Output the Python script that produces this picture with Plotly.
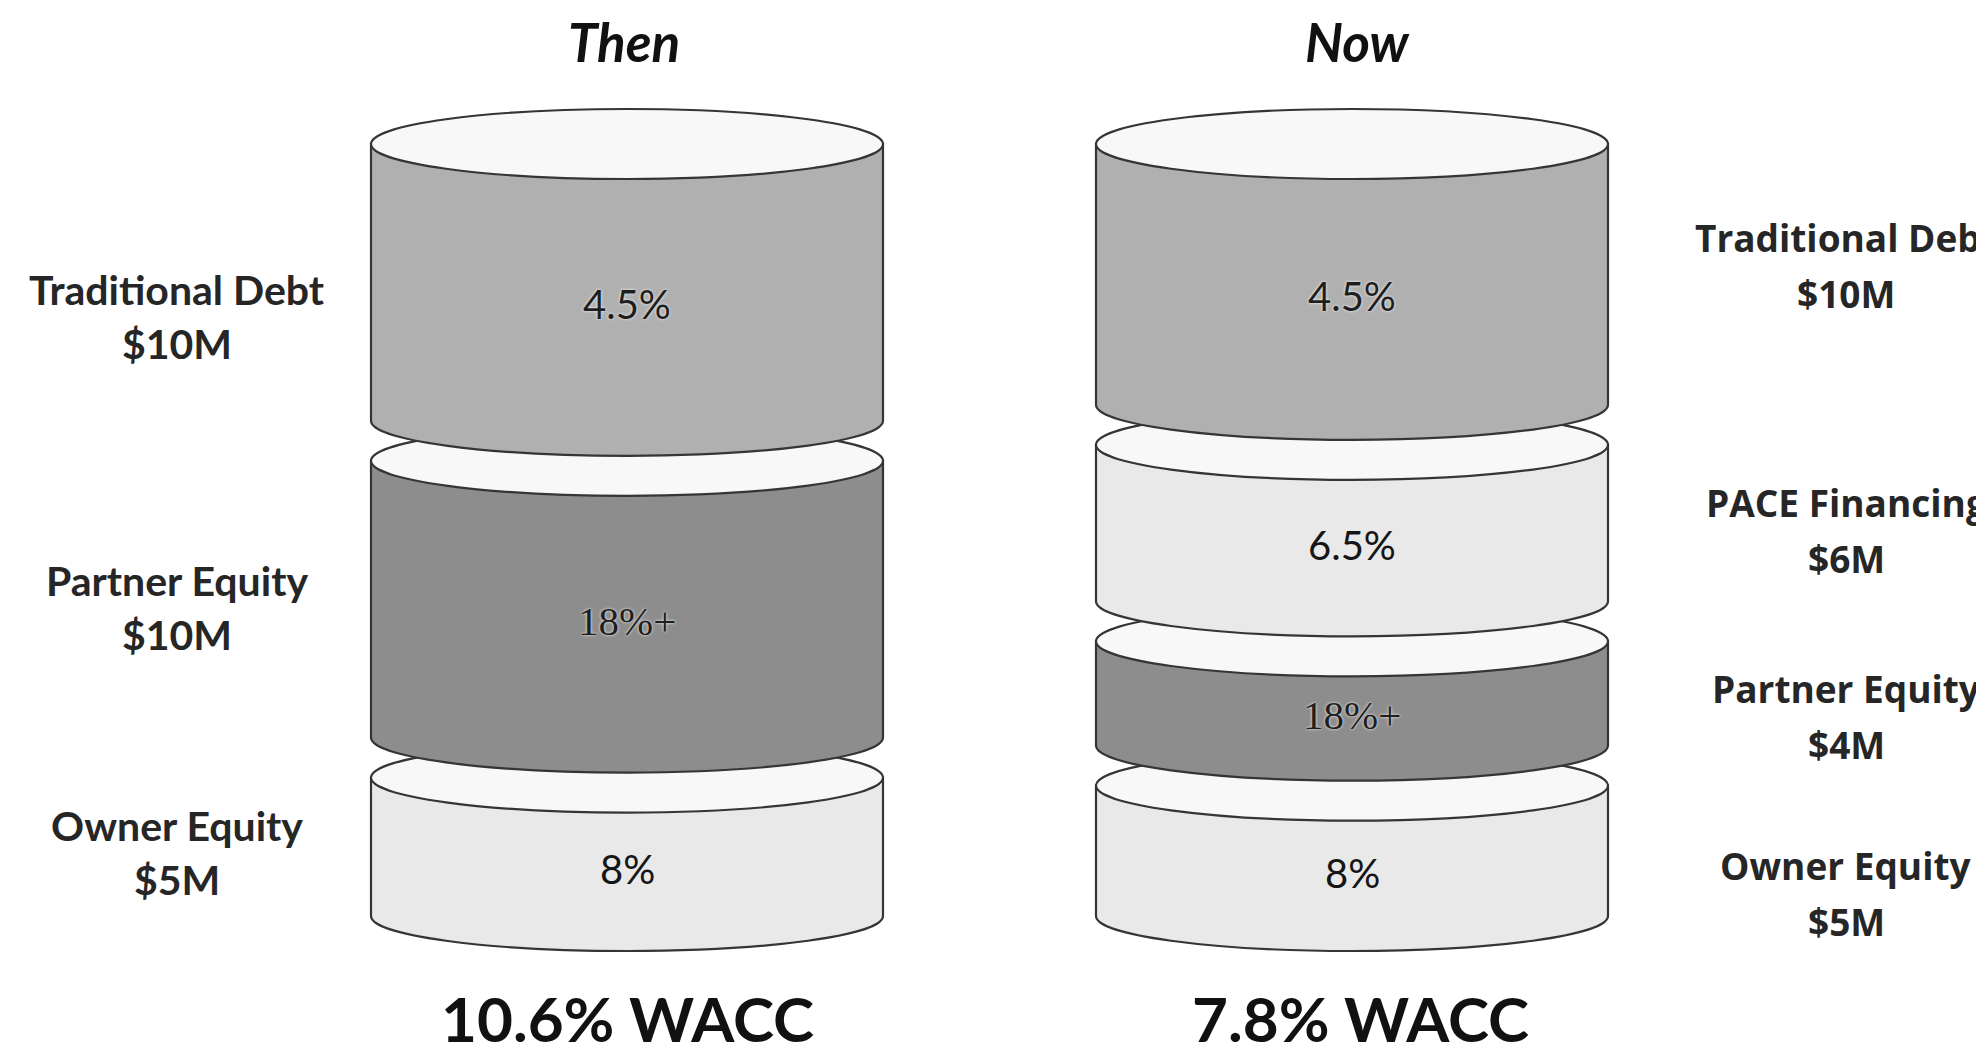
import plotly.graph_objects as go

# ---- data ----
then_names = ["Traditional Debt", "Partner Equity", "Owner Equity"]
then_amounts = [10, 10, 5]          # $M
then_rates = ["4.5%", "18%+", "8%"]

now_names = ["Traditional Debt", "PACE Financing", "Partner Equity", "Owner Equity"]
now_amounts = [10, 6, 4, 5]         # $M
now_rates = ["4.5%", "6.5%", "18%+", "8%"]

titles = ["Then", "Now"]
wacc = [10.6, 7.8]

# ---- layout / style ----
body_colors = {
    "Traditional Debt": "#b0b0b0",
    "Partner Equity": "#8d8d8d",
    "PACE Financing": "#e9e9e9",
    "Owner Equity": "#e9e9e9",
}
TOP_FILL = "#f8f8f8"
EDGE = "#353535"

W, H = 1984, 1052
Y_TOP, Y_BOT = 136, 908     # top-face centre of stack, bottom of stack sides
RX, RY = 256, 35
GAP = 40
K = 0.5523
# side-label centre offsets (px) relative to each segment's visible middle
then_label_dy = [12, -14, -16]
now_label_dy = [-31, -15, 1, 21]

fig = go.Figure()
shapes, annotations = [], []


def add_text(x, y, text, size, family="Lato", weight="normal", style="normal",
             color="#1a1a1a", shadow="none"):
    annotations.append(dict(x=x, y=y, xref="x", yref="y", text=text, showarrow=False,
                            xanchor="center", yanchor="middle",
                            font=dict(family=family, size=size, weight=weight, style=style,
                                      color=color, shadow=shadow)))


def draw_stack(xc, names, amounts, rates, label_x, label_family, label_size,
               label_dy, line_gap):
    n = len(amounts)
    total = sum(amounts)
    scale = (Y_BOT - Y_TOP - GAP * (n - 1)) / total
    tops, bots = [], []
    y = Y_TOP
    for a in amounts:
        tops.append(y)
        bots.append(y + a * scale)
        y = y + a * scale + GAP
    xl, xr = xc - RX, xc + RX
    # draw bottom segment first so upper segments overlap it
    for i in reversed(range(n)):
        yt, yb = tops[i], bots[i]
        path = (f"M {xl},{yt} L {xl},{yb} "
                f"C {xl},{yb + K * RY} {xc - K * RX},{yb + RY} {xc},{yb + RY} "
                f"C {xc + K * RX},{yb + RY} {xr},{yb + K * RY} {xr},{yb} "
                f"L {xr},{yt} Z")
        shapes.append(dict(type="path", path=path, xref="x", yref="y",
                           fillcolor=body_colors[names[i]],
                           line=dict(color=EDGE, width=2.2)))
        shapes.append(dict(type="circle", xref="x", yref="y",
                           x0=xl, x1=xr, y0=yt - RY, y1=yt + RY,
                           fillcolor=TOP_FILL, line=dict(color=EDGE, width=2.2)))
    for i in range(n):
        ymid = (tops[i] + bots[i]) / 2 + 22
        r = rates[i]
        if r.startswith("18"):
            add_text(xc, ymid, r, 41, family="Liberation Serif", color="#1e1e1e",
                     shadow="0px 0px 3px #ffffff")
        elif names[i] == "Traditional Debt":
            add_text(xc, ymid, r, 40, color="#1e1e1e", shadow="0px 0px 3px #ffffff")
        else:
            add_text(xc, ymid, r, 40, color="#151515")
        ly = ymid + label_dy[i]
        add_text(label_x, ly - line_gap / 2, names[i], label_size, family=label_family,
                 weight="bold", color="#262626")
        add_text(label_x, ly + line_gap / 2, f"${amounts[i]}M", label_size,
                 family=label_family, weight="bold", color="#262626")


draw_stack(619, then_names, then_amounts, then_rates, 169, "Lato", 41, then_label_dy, 54)
draw_stack(1344, now_names, now_amounts, now_rates, 1838, "Open Sans", 37, now_label_dy, 56)

for xc, t, w in zip([616, 1349], titles, wacc):
    add_text(xc, 33, t, 53, weight="bold", style="italic", color="#111111")
    add_text(xc + 3, 1010, f"{w}% WACC", 62, weight="bold", color="#111111")

# invisible anchor trace so axes exist
fig.add_trace(go.Scatter(x=[0, W], y=[0, H], mode="markers",
                         marker=dict(opacity=0), hoverinfo="skip", showlegend=False))

fig.update_layout(
    width=W, height=H,
    margin=dict(l=0, r=0, t=0, b=0),
    paper_bgcolor="white", plot_bgcolor="white",
    xaxis=dict(range=[0, W], visible=False, fixedrange=True),
    yaxis=dict(range=[H, 0], visible=False, fixedrange=True),
    shapes=shapes, annotations=annotations,
    showlegend=False,
)

fig.write_html("out.html")
